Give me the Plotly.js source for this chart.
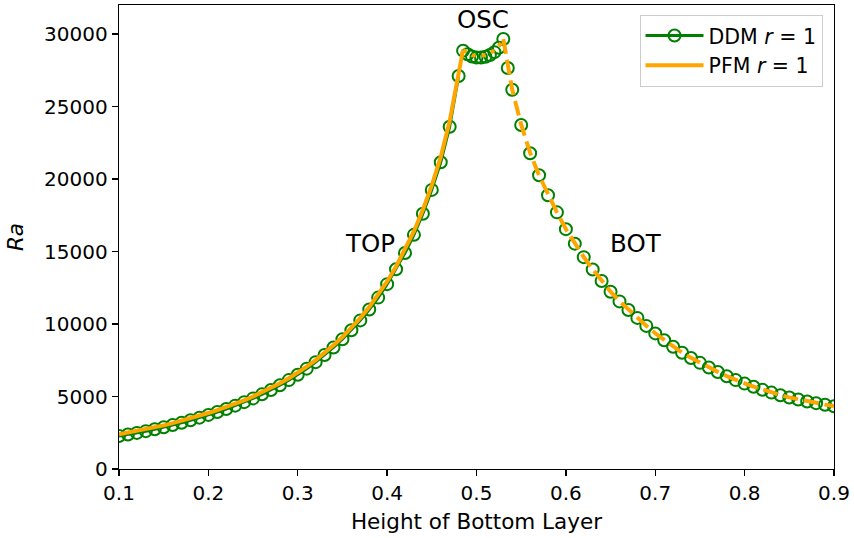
<!DOCTYPE html>
<html>
<head>
<meta charset="utf-8">
<script src="https://cdn.plot.ly/plotly-3.0.1.min.js"></script>
<style>html,body{margin:0;padding:0;background:#fff;}#chart{width:854px;height:538px;}</style>
</head>
<body>
<div id="chart"></div>
<script>
// DDM r=1 (circles) — TOP branch, OSC branch, BOT branch
const ddmTopX = [0.10,0.11,0.12,0.13,0.14,0.15,0.16,0.17,0.18,0.19,0.20,0.21,0.22,0.23,0.24,0.25,0.26,0.27,0.28,0.29,0.30,0.31,0.32,0.33,0.34,0.35,0.36,0.37,0.38,0.39,0.40,0.41,0.42,0.43,0.44,0.45,0.46,0.47,0.48];
const ddmTopRa = [2280,2380,2490,2610,2740,2880,3030,3190,3360,3540,3730,3930,4140,4370,4610,4870,5150,5450,5780,6130,6500,6920,7370,7860,8380,8950,9570,10250,11000,11820,12750,13780,14900,16150,17600,19250,21150,23600,27100];
const ddmOscX = [0.485,0.49,0.495,0.50,0.505,0.51,0.515,0.52,0.525,0.53];
const ddmOscRa = [28850,28600,28450,28380,28380,28430,28550,28750,29050,29650];
const ddmBotX = [0.535,0.54,0.55,0.56,0.57,0.58,0.59,0.60,0.61,0.62,0.63,0.64,0.65,0.66,0.67,0.68,0.69,0.70,0.71,0.72,0.73,0.74,0.75,0.76,0.77,0.78,0.79,0.80,0.81,0.82,0.83,0.84,0.85,0.86,0.87,0.88,0.89,0.90];
const ddmBotRa = [27650,26150,23720,21780,20260,18880,17700,16540,15540,14610,13760,12970,12220,11560,10970,10420,9870,9350,8880,8430,8020,7660,7320,7000,6690,6400,6130,5890,5670,5460,5270,5090,4930,4790,4660,4540,4430,4330];

// PFM r=1 (orange line) — TOP solid, OSC dotted, BOT dashed
const pfmTopX = [0.10,0.11,0.12,0.13,0.14,0.15,0.16,0.17,0.18,0.19,0.20,0.21,0.22,0.23,0.24,0.25,0.26,0.27,0.28,0.29,0.30,0.31,0.32,0.33,0.34,0.35,0.36,0.37,0.38,0.39,0.40,0.41,0.42,0.43,0.44,0.45,0.46,0.47,0.48,0.485];
const pfmTopRa = [2400,2510,2620,2740,2870,3010,3160,3320,3490,3670,3860,4060,4270,4500,4740,5000,5280,5580,5910,6260,6640,7060,7510,8000,8530,9100,9720,10410,11170,12000,12930,13970,15120,16400,17880,19560,21520,24000,27300,28900];
const pfmOscX = [0.485,0.49,0.495,0.50,0.505,0.51,0.515,0.52,0.525,0.53];
const pfmOscRa = [28900,28680,28540,28480,28490,28550,28680,28870,29170,29650];
const pfmBotX = [0.53,0.535,0.54,0.55,0.56,0.57,0.58,0.59,0.60,0.61,0.62,0.63,0.64,0.65,0.66,0.67,0.68,0.69,0.70,0.71,0.72,0.73,0.74,0.75,0.76,0.77,0.78,0.79,0.80,0.81,0.82,0.83,0.84,0.85,0.86,0.87,0.88,0.89,0.90];
const pfmBotRa = [29650,27700,26150,23750,21800,20250,18900,17700,16550,15550,14620,13770,12980,12230,11570,10980,10430,9880,9360,8890,8440,8030,7670,7330,7010,6700,6410,6140,5900,5680,5470,5280,5100,4940,4800,4670,4550,4440,4340];

const labels = [
  {text:'TOP', x:0.381, y:15575},
  {text:'OSC', x:0.507, y:30970},
  {text:'BOT', x:0.679, y:15575}
];

const GREEN = '#008000', ORANGE = '#FFA500';
const mk = {symbol:'circle-open', size:12, color:GREEN, line:{width:2, color:GREEN}};

const traces = [
  {x:ddmTopX, y:ddmTopRa, mode:'lines+markers', name:'DDM <i>r</i> = 1', line:{color:GREEN, width:3}, marker:mk},
  {x:ddmOscX, y:ddmOscRa, mode:'markers', showlegend:false, marker:mk},
  {x:ddmBotX, y:ddmBotRa, mode:'markers', showlegend:false, marker:mk},
  {x:pfmTopX, y:pfmTopRa, mode:'lines', name:'PFM <i>r</i> = 1', line:{color:ORANGE, width:4}},
  {x:pfmOscX, y:pfmOscRa, mode:'lines', showlegend:false, line:{color:ORANGE, width:4, dash:'4px,6px'}},
  {x:pfmBotX, y:pfmBotRa, mode:'lines', showlegend:false, line:{color:ORANGE, width:4, dash:'15px,6px'}}
];

const tickFont = {family:'DejaVu Sans', size:20, color:'#000'};
const titleFont = {family:'DejaVu Sans', size:21.5, color:'#000'};
const layout = {
  width:854, height:538,
  margin:{l:119, r:20, t:5, b:69},
  paper_bgcolor:'#fff', plot_bgcolor:'#fff',
  font:tickFont,
  showlegend:true,
  legend:{x:0.728, y:0.979, xanchor:'left', yanchor:'top', bgcolor:'#fff', bordercolor:'#cccccc', borderwidth:1,
    font:{family:'DejaVu Sans', size:20.5, color:'#000'}, itemwidth:58, tracegroupgap:2},
  xaxis:{range:[0.1,0.9], tickvals:[0.1,0.2,0.3,0.4,0.5,0.6,0.7,0.8,0.9], ticktext:['0.1','0.2','0.3','0.4','0.5','0.6','0.7','0.8','0.9'],
    showline:true, mirror:true, linecolor:'#000', linewidth:1.3, ticks:'outside', ticklen:6, tickwidth:1.3, tickcolor:'#000',
    showgrid:false, zeroline:false, tickfont:tickFont, title:{text:'Height of Bottom Layer', font:titleFont, standoff:9}},
  yaxis:{range:[0,32000], tickvals:[0,5000,10000,15000,20000,25000,30000], ticktext:['0','5000','10000','15000','20000','25000','30000'],
    showline:true, mirror:true, linecolor:'#000', linewidth:1.3, ticks:'outside', ticklen:6, tickwidth:1.3, tickcolor:'#000',
    showgrid:false, zeroline:false, tickfont:tickFont, title:{text:'<i>Ra</i>', font:titleFont, standoff:14}},
  annotations: labels.map(a => ({x:a.x, y:a.y, xref:'x', yref:'y', text:a.text, showarrow:false, font:{family:'DejaVu Sans', size:24.5, color:'#000'}}))
};

Plotly.newPlot('chart', traces, layout, {displayModeBar:false, staticPlot:true});
</script>
</body>
</html>
